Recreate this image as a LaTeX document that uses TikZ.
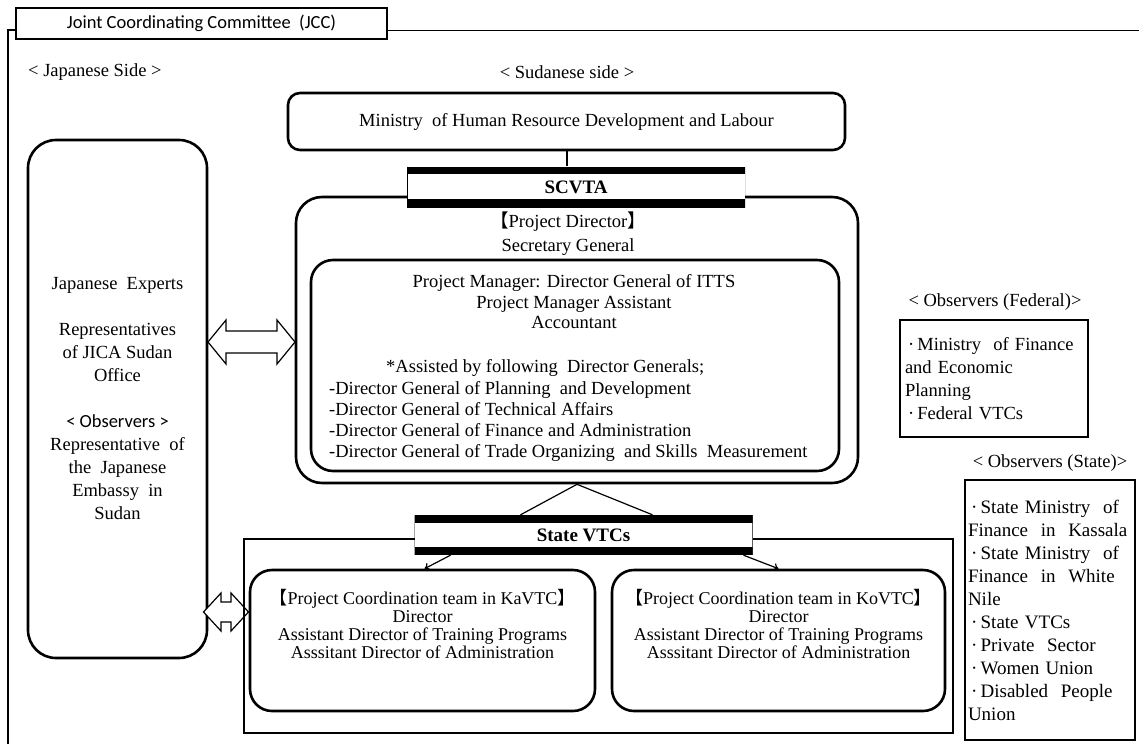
\documentclass[tikz,border=0pt]{standalone}
\usepackage{fontspec}
\setmainfont{Liberation Serif}
\newfontfamily\calfont{Carlito}
\newfontfamily\cjkfont{Noto Sans CJK JP}
\usetikzlibrary{arrows.meta}
\newcommand{\lbk}{{\cjkfont 【}}
\newcommand{\rbk}{{\cjkfont 】}}
\newcommand{\bul}{\,·\,}
\begin{document}
\begin{tikzpicture}[x=1pt,y=-1pt,
  every node/.style={inner sep=0pt, font=\fontsize{18.5}{23}\selectfont},
  rbox/.style={draw, line width=2.6pt, rounded corners=#1},
  rbox/.default=20pt,
  band/.style={fill=white, inner sep=0pt, font=\fontsize{19}{22}\selectfont\bfseries,
    path picture={
      \fill[black] (path picture bounding box.north west) rectangle ([yshift=-7.5pt]path picture bounding box.north east);
      \fill[black] (path picture bounding box.south west) rectangle ([yshift=8.5pt]path picture bounding box.south east);
      \draw[black, line width=0.8pt] (path picture bounding box.north west) -- (path picture bounding box.south west);
      \draw[black, line width=0.8pt] (path picture bounding box.north east) -- (path picture bounding box.south east);
    }},
  obs/.style={draw, line width=1.3pt},
  dbl/.style={draw, line width=1.2pt, fill=white, line join=miter},
  conn/.style={line width=1.2pt},
  arr/.style={line width=1.2pt, -{To[length=5pt,width=8pt]}}
  ]
\useasboundingbox (0,0) rectangle (1139,744);

% JCC frame and title
\node[draw, line width=1.6pt, minimum width=371, minimum height=31,
      font=\calfont\fontsize{18.5}{20}\selectfont] (jcc) at (201.5,23.5) {Joint Coordinating Committee\ \ (JCC)};
\draw[line width=1.8pt] (16,30) -- (8,30) -- (8,744);
\draw[line width=1pt] (jcc.east |- 0,30) -- (1139,30);

\node[anchor=west] (jside) at (28,72) {< Japanese Side >};
\node (sside) at (567,72) {< Sudanese side >};

% Ministry
\node[rbox=12pt, minimum width=557, minimum height=57] (min) at (566.5,121.5) {Ministry\ \ of Human Resource Development and Labour};

% SCVTA boxes
\node[rbox=26pt, minimum width=562, minimum height=286] (outer) at (577,340) {};
\node[rbox=22pt, minimum width=528, minimum height=211] (inner) at (575,365.5) {};
\node[band, minimum width=338, minimum height=41] (scvta) at (576,187) {SCVTA};
\node[align=center, font=\fontsize{18.5}{24}\selectfont] (pd) at (568,234) {\lbk Project Director\rbk\\Secretary General};
\node[align=center, font=\fontsize{18.5}{20.5}\selectfont] (pm) at (574,302) {Project Manager: Director General of ITTS\\Project Manager Assistant\\Accountant};
\node[anchor=west] (assist) at (386,368) {*Assisted by following\ \ Director Generals;};
\node[anchor=west, align=left, font=\fontsize{18.5}{21}\selectfont] (dg) at (329,421.5) {-Director General of Planning\ \ and Development\\-Director General of Technical Affairs\\-Director General of Finance and Administration\\-Director General of Trade Organizing\ \ and Skills\ \ Measurement};

\draw[conn] ([xshift=0.5pt]min.south) -- ([xshift=-9pt]scvta.north);

% Japanese side
\node[rbox=28pt, minimum width=179, minimum height=518, align=center] (jp) at (117.5,399)
  {Japanese\ \ Experts\\[23pt]Representatives\\of JICA Sudan\\Office\\[23pt]{\calfont < Observers >}\\Representative\ \ of\\the\ \ Japanese\\Embassy\ \ in\\Sudan};
\coordinate (ar1) at (251.5,342);
\draw[dbl, shift={(ar1)}] (-43.5,0) -- (-25.5,-22) -- (-25.5,-11) -- (25.5,-11) -- (25.5,-22) -- (43.5,0)
   -- (25.5,22) -- (25.5,11) -- (-25.5,11) -- (-25.5,22) -- cycle;
\coordinate (ar2) at (226,612);
\draw[dbl, shift={(ar2)}] (-22.5,0) -- (-5,-19) -- (-5,-10) -- (5,-10) -- (5,-19) -- (22.5,0)
   -- (5,19) -- (5,10) -- (-5,10) -- (-5,19) -- cycle;

% State VTCs
\node[draw, line width=1.1pt, minimum width=709, minimum height=194] (sbox) at (598.5,636) {};
\node[band, minimum width=338, minimum height=40] (svtc) at (583.5,535) {State VTCs};
\draw[conn] (outer.south) -- ([xshift=-63pt]svtc.north);
\draw[conn] (outer.south) -- ([xshift=69pt]svtc.north);

\node[rbox=22pt, minimum width=345, minimum height=141] (ka) at (422.5,640.5) {};
\node[rbox=22pt, minimum width=333, minimum height=141] (ko) at (778.5,640.5) {};
\node[align=center, font=\fontsize{18}{18}\selectfont] (kat) at (422.5,624) {\lbk Project Coordination team in KaVTC\rbk\\Director\\Assistant Director of Training Programs\\Asssitant Director of Administration};
\node[align=center, font=\fontsize{18}{18}\selectfont] (kot) at (778.5,624) {\lbk Project Coordination team in KoVTC\rbk\\Director\\Assistant Director of Training Programs\\Asssitant Director of Administration};
\draw[arr] ([xshift=-133pt]svtc.south) -- ([xshift=2pt]ka.north);
\draw[arr] ([xshift=160pt]svtc.south) -- (ko.north);

% Observers
\node (fedt) at (995,302) {< Observers (Federal)>};
\node[obs, minimum width=188, minimum height=117, text width=178, align=left] (fed) at (994,378.5)
  {\bul Ministry\ \ of Finance\\and Economic\\Planning\\\bul Federal VTCs};
\node (stt) at (1050,463) {< Observers (State)>};
\node[obs, minimum width=170, minimum height=260, text width=164, align=left, font=\fontsize{19}{23}\selectfont] (st) at (1050,610)
  {\bul State Ministry\ \ of\\Finance\ \ in\ \ Kassala\\\bul State Ministry\ \ of\\Finance\ \ in\ \ White\\Nile\\\bul State VTCs\\\bul Private\ \ Sector\\\bul Women Union\\\bul Disabled\ \ People\\Union};
\end{tikzpicture}
\end{document}
